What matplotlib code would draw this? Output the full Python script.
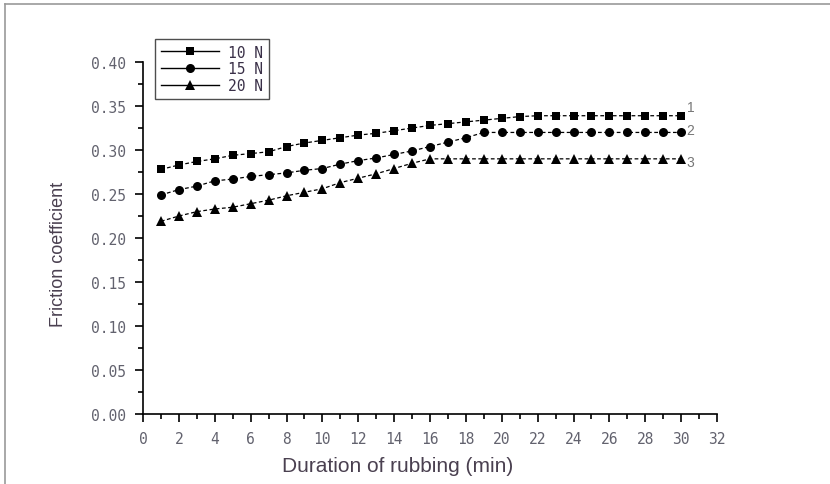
import numpy as np
import matplotlib
matplotlib.use("Agg")
import matplotlib.pyplot as plt
from matplotlib.lines import Line2D
from matplotlib.ticker import MultipleLocator

plt.rcParams['font.family'] = ['Liberation Sans', 'DejaVu Sans']

# data
minutes = list(range(1, 31))
mu_10N = [0.278, 0.283, 0.287, 0.290, 0.294, 0.296, 0.298, 0.304, 0.308, 0.311,
          0.314, 0.317, 0.319, 0.322, 0.325, 0.328, 0.330, 0.332, 0.334, 0.336,
          0.338, 0.339, 0.339, 0.339, 0.339, 0.339, 0.339, 0.339, 0.339, 0.339]
mu_15N = [0.249, 0.255, 0.259, 0.265, 0.267, 0.270, 0.272, 0.274, 0.277, 0.279,
          0.284, 0.288, 0.291, 0.295, 0.299, 0.304, 0.309, 0.314, 0.320, 0.320,
          0.320, 0.320, 0.320, 0.320, 0.320, 0.320, 0.320, 0.320, 0.320, 0.320]
mu_20N = [0.219, 0.225, 0.230, 0.233, 0.235, 0.239, 0.243, 0.248, 0.252, 0.256,
          0.263, 0.268, 0.273, 0.279, 0.285, 0.290, 0.290, 0.290, 0.290, 0.290,
          0.290, 0.290, 0.290, 0.290, 0.290, 0.290, 0.290, 0.290, 0.290, 0.290]
labels = ['10 N', '15 N', '20 N']
markers = ['s', 'o', '^']
end_tags = ['1', '2', '3']
tag_offsets = [(4, 6), (4, 2), (4, -2)]

fig = plt.figure(figsize=(8.3, 4.85), dpi=100)
ax = fig.add_axes([0.1723, 0.1443, 0.6916, 0.7257])

wide = ['DejaVu Sans Mono']
txt_col = '#4a4050'
for ys, lab, mk, tag, off in zip([mu_10N, mu_15N, mu_20N], labels, markers,
                                 end_tags, tag_offsets):
    ax.plot(minutes, ys, color='black', linestyle=(0, (3, 2)), linewidth=0.9,
            marker=mk, markersize=6.5 if mk != 's' else 5.5, markeredgewidth=0)
    ax.annotate(tag, (minutes[-1], ys[-1]), xytext=off, textcoords='offset points',
                fontsize=10, color='#777777', va='center')

# legend with solid lines, like the original
handles = [Line2D([], [], color='black', linewidth=1, marker=mk,
                  markersize=6.5 if mk != 's' else 5.5, markeredgewidth=0)
           for mk in markers]
leg = fig.legend(handles, labels, loc='upper left', bbox_to_anchor=(0.187, 0.918),
                 frameon=True, fancybox=False, edgecolor='#222222',
                 prop={'family': wide, 'size': 10.5},
                 handlelength=4.0, labelspacing=0.12, borderpad=0.4,
                 borderaxespad=0, handletextpad=0.6, labelcolor='#3a3048')
leg.get_frame().set_linewidth(1.0)

ax.set_xlim(0, 32)
ax.set_ylim(0, 0.40)
ax.xaxis.set_major_locator(MultipleLocator(2))
ax.xaxis.set_minor_locator(MultipleLocator(1))
ax.yaxis.set_minor_locator(MultipleLocator(0.025))
ax.set_yticks(np.arange(0, 0.401, 0.05))
ax.set_yticklabels([f"{v:.2f}" for v in np.arange(0, 0.401, 0.05)])
for lbl in ax.get_xticklabels() + ax.get_yticklabels():
    lbl.set_fontfamily(wide)

for side in ['top', 'right']:
    ax.spines[side].set_visible(False)
for side in ['left', 'bottom']:
    ax.spines[side].set_linewidth(1.2)
ax.tick_params(which='major', direction='out', length=6, width=1.2,
               labelsize=10.5, labelcolor='#62626e', pad=6)
ax.tick_params(which='minor', direction='out', length=3.5, width=1.2)

ax.set_xlabel('Duration of rubbing (min)', fontsize=15, color=txt_col)
ax.set_ylabel('Friction coefficient', fontsize=13, color=txt_col)
ax.xaxis.set_label_coords(0.444, -0.118)
ax.yaxis.set_label_coords(-0.132, 0.455)

# thin grey frame of the original screenshot
fig.add_artist(Line2D([0.006, 1.0], [0.99, 0.99], transform=fig.transFigure,
                      color='#999999', linewidth=1.2))
fig.add_artist(Line2D([0.006, 0.006], [0.0, 0.99], transform=fig.transFigure,
                      color='#999999', linewidth=1.2))

fig.savefig('out.png', dpi=100)
